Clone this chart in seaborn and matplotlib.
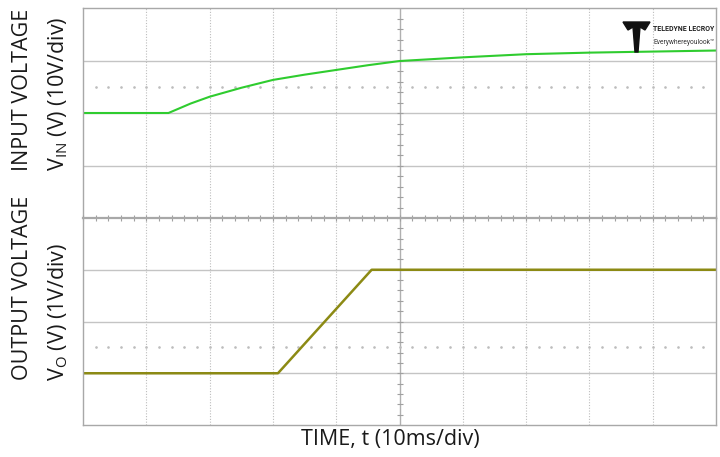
import numpy as np
import pandas as pd
import seaborn as sns
import matplotlib.pyplot as plt
from matplotlib.patches import Polygon

# scope capture, time in ms (10 ms/div), input in V (10 V/div), output in V (1 V/div)
t_in = [0, 13.5, 17, 20, 25, 30, 35, 40, 45, 50, 60, 70, 80, 90, 100]
v_in = [20.0, 20.0, 21.8, 23.1, 24.8, 26.3, 27.3, 28.2, 29.1, 29.9, 30.6, 31.2, 31.5, 31.7, 31.9]

t_out = [0, 30.8, 45.6, 100]
v_out = [1.0, 1.0, 3.0, 3.0]

trig_in = 25.0
trig_out = 1.5

sns.set_style("white")
plt.rcParams['font.family'] = ['Open Sans', 'DejaVu Sans']
plt.rcParams['mathtext.fontset'] = 'custom'
plt.rcParams['mathtext.rm'] = 'Open Sans'

fig = plt.figure(figsize=(7.2, 4.57), dpi=100)
W, H = 720, 457
left, right = 83 / W, 716 / W
ax1 = fig.add_axes([left, 1 - 218 / H, right - left, (218 - 8) / H])
ax2 = fig.add_axes([left, 1 - 425 / H, right - left, (425 - 218) / H])

grid_c = '#c4c4c4'
dot_c = '#bdbdbd'

def scope_grid(ax, ylim, ystep, trig):
    ax.set_xlim(0, 100)
    ax.set_ylim(*ylim)
    for x in np.arange(10, 100, 10):
        if x != 50:
            ax.axvline(x, color=dot_c, lw=0.8, ls=(0, (1, 1.5)), zorder=0)
    for y in np.arange(ylim[0] + ystep, ylim[1], ystep):
        ax.axhline(y, color=grid_c, lw=1.0, zorder=0)
    # centre vertical axis with minor ticks
    ax.axvline(50, color='#b0b0b0', lw=1.0, zorder=0)
    ty = np.arange(ylim[0], ylim[1] + 1e-9, ystep / 5)
    ax.plot(np.full(len(ty), 50), ty, ls='none', marker='_', ms=4,
            mew=0.8, color='#a0a0a0', zorder=0)
    # trigger dotted row
    tx = np.arange(2, 100, 2)
    ax.plot(tx, np.full(len(tx), trig), ls='none', marker='o', ms=0.9,
            color=dot_c, zorder=0)
    for s in ax.spines.values():
        s.set_color('#a8a8a8')
        s.set_linewidth(1.0)
    ax.set_xticks([])
    ax.set_yticks([])

scope_grid(ax1, (0, 40), 10, trig_in)
scope_grid(ax2, (0, 4), 1, trig_out)

# centre horizontal axis ticks (divider between panels)
tx = np.arange(0, 100.1, 2)
ax2.plot(tx, np.full(len(tx), 4), ls='none', marker='|', ms=5, mew=0.8,
         color='#a0a0a0', zorder=0, clip_on=False)
ax2.spines['top'].set_linewidth(1.6)

df_in = pd.DataFrame({'t': t_in, 'v': v_in})
df_out = pd.DataFrame({'t': t_out, 'v': v_out})
sns.lineplot(data=df_in, x='t', y='v', ax=ax1, color='#2fcc2f', lw=1.5)
sns.lineplot(data=df_out, x='t', y='v', ax=ax2, color='#8c8a14', lw=1.8)
for ax in (ax1, ax2):
    ax.set_xlabel('')
    ax.set_ylabel('')

# labels
lab = dict(rotation=90, ha='center', va='center', fontsize=15.5, color='#1a1a1a')
fig.text(23 / W, 1 - 90 / H, 'INPUT VOLTAGE', **lab)
fig.text(58 / W, 1 - 94 / H, r'V$_{\mathrm{IN}}$ (V) (10V/div)', **lab)
fig.text(23 / W, 1 - 288 / H, 'OUTPUT VOLTAGE', **lab)
fig.text(58 / W, 1 - 312 / H, r'V$_{\mathrm{O}}$ (V) (1V/div)', **lab)
fig.text(390 / W, 1 - 440 / H, 'TIME, t (10ms/div)', ha='center',
         va='center', fontsize=15.5, color='#1a1a1a')

# scope logo
logo = [(623, 22), (650, 22), (645, 30), (640, 27), (638, 52), (635, 52),
        (633, 27), (628, 30)]
fig.patches.append(Polygon([(x / W, 1 - y / H) for x, y in logo], closed=True,
                           transform=fig.transFigure, color='#111111'))
fig.text(653 / W, 1 - 29 / H, 'TELEDYNE LECROY', fontsize=5.0,
         fontweight='bold', color='#222222', va='center', ha='left',
         family='Roboto')
fig.text(653 / W, 1 - 43 / H, 'Everywhereyoulook\u2122', fontsize=4.8,
         color='#333333', va='center', ha='left', family='Roboto')

fig.savefig('out.png', dpi=100)
